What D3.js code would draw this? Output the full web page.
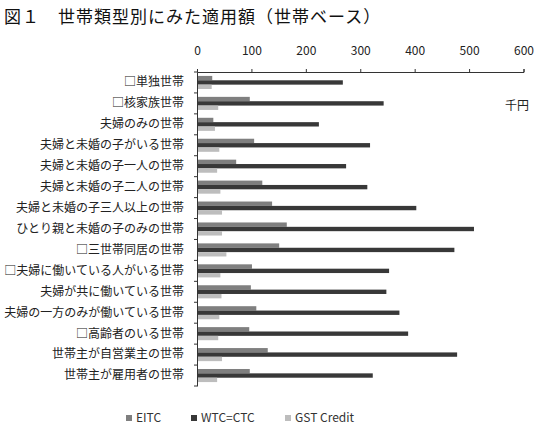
<!DOCTYPE html>
<html><head><meta charset="utf-8">
<script src="https://cdn.jsdelivr.net/npm/d3@7/dist/d3.min.js"></script>
<style>body{margin:0;background:#fff}svg{display:block}text{font-family:"Noto Sans CJK JP","Noto Sans",sans-serif}</style>
</head><body><div id="c"></div>
<script>
const categories = ["□単独世帯","□核家族世帯","夫婦のみの世帯","夫婦と未婚の子がいる世帯","夫婦と未婚の子一人の世帯","夫婦と未婚の子二人の世帯","夫婦と未婚の子三人以上の世帯","ひとり親と未婚の子のみの世帯","□三世帯同居の世帯","□夫婦に働いている人がいる世帯","夫婦が共に働いている世帯","夫婦の一方のみが働いている世帯","□高齢者のいる世帯","世帯主が自営業主の世帯","世帯主が雇用者の世帯"];
const seriesNames = ["EITC","WTC=CTC","GST Credit"];
const eitc = [28,97,30,105,72,120,138,165,151,101,99,109,96,130,97];
const wtc = [268,343,224,318,274,313,403,509,473,353,348,372,388,478,323];
const gst = [27,39,33,41,37,43,46,46,54,43,45,41,39,46,37];
const xTicks = [0,100,200,300,400,500,600];
const colors = ["#7f7f7f","#383838","#bdbdbd"];

const W=541,H=434;
const svg=d3.select("#c").append("svg").attr("width",W).attr("height",H);
const x=d3.scaleLinear().domain([0,600]).range([197,523.5]);
const y=d3.scaleBand().domain(categories).range([72,386]);
const sub=d3.scaleBand().domain(seriesNames).range([0,y.bandwidth()]).paddingOuter(0.9).paddingInner(0);
const series=[eitc,wtc,gst];

svg.append("text").attr("x",4).attr("y",23).attr("font-size",17).attr("letter-spacing",1).attr("fill","#111")
  .text("図１　世帯類型別にみた適用額（世帯ベース）");

// bars
series.forEach((vals,si)=>{
  svg.append("g").selectAll("rect").data(vals).join("rect")
    .attr("x",x(0)).attr("y",(d,i)=>y(categories[i])+sub(seriesNames[si]))
    .attr("width",d=>x(d)-x(0)).attr("height",sub.bandwidth())
    .attr("fill",colors[si]);
});

// top axis
const xa=svg.append("g").attr("transform","translate(0,72)")
  .call(d3.axisTop(x).tickValues(xTicks).tickSize(3).tickPadding(14));
xa.select(".domain").attr("stroke","#333");
xa.selectAll(".tick line").attr("stroke","#333");
xa.selectAll("text").attr("font-size",12).attr("fill","#222").attr("font-family","'DejaVu Sans',sans-serif");

// left axis
const ya=svg.append("g").attr("transform","translate(197,0)")
  .call(d3.axisLeft(y).tickSize(0).tickPadding(13));
ya.select(".domain").attr("stroke","#333");
ya.selectAll("text").attr("font-size",12).attr("fill","#222");
svg.append("g").selectAll("line").data(d3.range(categories.length+1)).join("line")
  .attr("x1",194).attr("x2",197)
  .attr("y1",i=>72+i*y.step()).attr("y2",i=>72+i*y.step()).attr("stroke","#333");

svg.append("text").attr("x",505).attr("y",110).attr("font-size",12).attr("fill","#222").text("千円");

// legend
const legX=[126,191,285];
seriesNames.forEach((n,i)=>{
  svg.append("rect").attr("x",legX[i]).attr("y",415).attr("width",6).attr("height",6).attr("fill",colors[i]);
  svg.append("text").attr("x",legX[i]+10).attr("y",422).attr("font-size",12).attr("fill","#333")
    .attr("font-family","'Open Sans','Liberation Sans',sans-serif").text(n);
});
</script></body></html>
